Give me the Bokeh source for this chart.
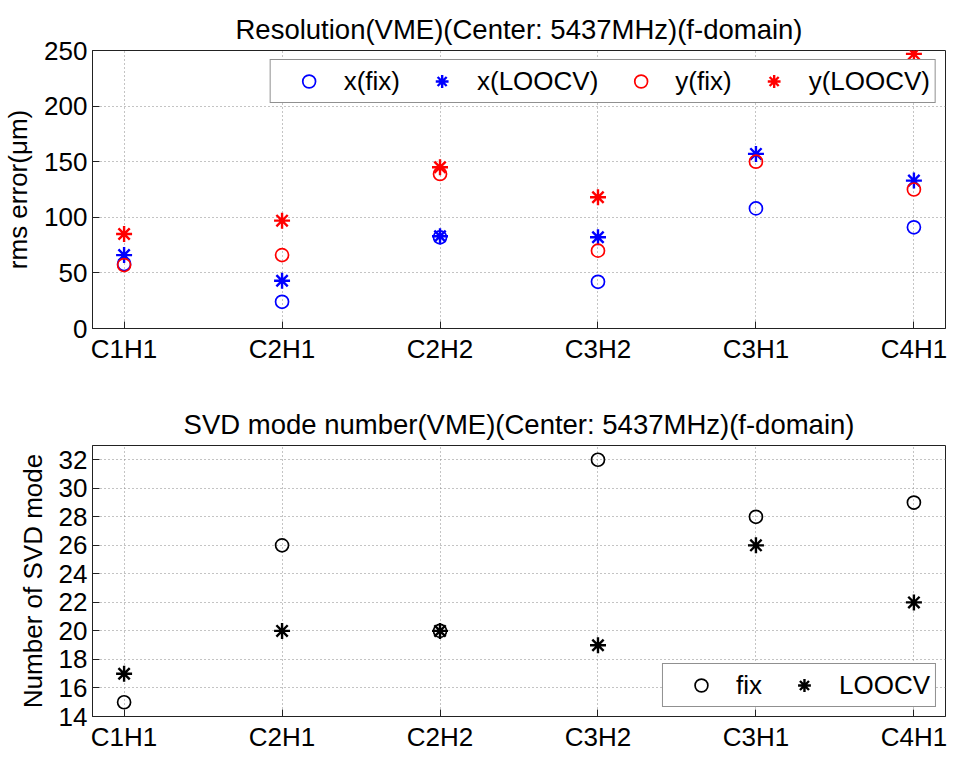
from bokeh.plotting import figure
from bokeh.layouts import column
from bokeh.models import Range1d, FixedTicker, Legend, LegendItem
from bokeh.embed import file_html
from bokeh.resources import INLINE

# ---- data ----
categories = ["C1H1", "C2H1", "C2H2", "C3H2", "C3H1", "C4H1"]
x_fix = [58, 24, 82, 42, 108, 91]
x_loocv = [66, 43, 83, 82, 157, 133]
y_fix = [57, 66, 139, 70, 150, 125]
y_loocv = [85, 97, 145, 118, float("nan"), 247]
svd_fix = [15, 26, 20, 32, 28, 29]
svd_loocv = [17, 20, 20, 19, 26, 22]
res_ticks = [0, 50, 100, 150, 200, 250]
svd_ticks = [14, 16, 18, 20, 22, 24, 26, 28, 30, 32]

FONT = "Liberation Sans"
xs = list(range(len(categories)))
BLUE = "#0000ff"
RED = "#ff0000"


def style_axis(ax, ticks):
    ax.ticker = FixedTicker(ticks=ticks)
    ax.minor_tick_line_color = None
    ax.major_tick_in = 7
    ax.major_tick_out = 0
    ax.major_tick_line_color = "#222222"
    ax.axis_line_color = "#222222"
    ax.major_label_text_font = FONT
    ax.major_label_text_color = "black"
    ax.major_label_text_font_size = "26px"
    ax.major_label_standoff = 5
    ax.axis_label_text_font = FONT
    ax.axis_label_text_font_style = "normal"
    ax.axis_label_text_font_size = "26px"
    ax.axis_label_text_color = "black"


def make_fig(height, yr, yticks, ylabel, title, min_top, min_bottom):
    p = figure(width=947, height=height,
               x_range=Range1d(-0.2, 5.2), y_range=Range1d(*yr),
               output_backend="svg", toolbar_location=None,
               min_border_left=85, min_border_right=2,
               min_border_top=min_top, min_border_bottom=min_bottom)
    p.title.text = title
    p.title.align = "center"
    p.title.text_font = FONT
    p.title.text_font_size = "27.5px"
    p.title.text_font_style = "normal"
    p.title.text_color = "black"
    p.title.standoff = 12
    style_axis(p.xaxis[0], xs)
    p.xaxis[0].major_label_overrides = {i: c for i, c in enumerate(categories)}
    style_axis(p.yaxis[0], yticks)
    p.yaxis[0].axis_label = ylabel
    p.yaxis[0].axis_label_standoff = 8
    for g, t in ((p.xgrid[0], xs), (p.ygrid[0], yticks)):
        g.ticker = FixedTicker(ticks=t)
        g.grid_line_color = "#888888"
        g.grid_line_dash = "1 3"
        g.grid_line_width = 1
    p.outline_line_color = "#222222"
    p.outline_line_alpha = 1
    p.background_fill_color = "white"
    p.border_fill_color = "white"
    return p


def style_legend(lg, loc):
    lg.location = loc
    lg.orientation = "horizontal"
    lg.label_text_font = FONT
    lg.label_text_font_size = "26px"
    lg.label_text_color = "black"
    lg.border_line_color = "#222222"
    lg.border_line_width = 1
    lg.background_fill_alpha = 1
    lg.glyph_width = 66
    lg.glyph_height = 32
    lg.label_standoff = 2
    lg.spacing = 9
    lg.padding = 5
    lg.margin = 9


# ---- top: resolution ----
p1 = make_fig(366, (0, 250), res_ticks, "rms error(μm)",
              "Resolution(VME)(Center: 5437MHz)(f-domain)", 50, 36)
r1 = p1.scatter(xs, x_fix, marker="circle", size=13, fill_color=None,
                line_color=BLUE, line_width=1.7)
r2 = p1.scatter(xs, x_loocv, marker="asterisk", size=16,
                line_color=BLUE, line_width=2.4)
r3 = p1.scatter(xs, y_fix, marker="circle", size=13, fill_color=None,
                line_color=RED, line_width=1.7)
r4 = p1.scatter(xs, y_loocv, marker="asterisk", size=16,
                line_color=RED, line_width=2.4)
lg1 = Legend(items=[LegendItem(label="x(fix)", renderers=[r1]),
                    LegendItem(label="x(LOOCV)", renderers=[r2]),
                    LegendItem(label="y(fix)", renderers=[r3]),
                    LegendItem(label="y(LOOCV)", renderers=[r4])])
style_legend(lg1, "top_right")
p1.add_layout(lg1)

# ---- bottom: SVD mode number ----
p2 = make_fig(388, (14, 33), svd_ticks, "Number of SVD mode",
              "SVD mode number(VME)(Center: 5437MHz)(f-domain)", 79, 34)
s1 = p2.scatter(xs, svd_fix, marker="circle", size=13, fill_color=None,
                line_color="black", line_width=1.7)
s2 = p2.scatter(xs, svd_loocv, marker="asterisk", size=16,
                line_color="black", line_width=2.4)
lg2 = Legend(items=[LegendItem(label="fix", renderers=[s1]),
                    LegendItem(label="LOOCV", renderers=[s2])])
style_legend(lg2, "bottom_right")
p2.add_layout(lg2)

layout = column(p1, p2, spacing=0)
open("out.html", "w").write(file_html(layout, INLINE))
